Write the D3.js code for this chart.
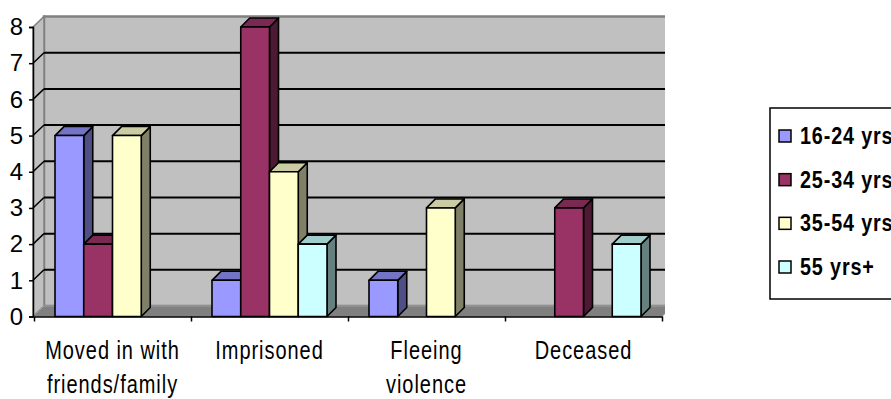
<!DOCTYPE html>
<html>
<head>
<meta charset="utf-8">
<script src="https://cdn.jsdelivr.net/npm/d3@7"></script>
<style>
  html, body { margin: 0; padding: 0; background: #fff; overflow: hidden; }
  svg { display: block; }
  text { font-family: "Liberation Sans", Arial, sans-serif; }
</style>
</head>
<body>
<svg id="chart" width="891" height="399"></svg>
<script>
// Housing outcomes by age band
const categories = ["Moved in with friends/family", "Imprisoned", "Fleeing violence", "Deceased"];
const categoryLines = [["Moved in with", "friends/family"], ["Imprisoned"], ["Fleeing", "violence"], ["Deceased"]];
const seriesNames = ["16-24 yrs", "25-34 yrs", "35-54 yrs", "55 yrs+"];
const age16to24 = [5, 1, 1, 0];
const age25to34 = [2, 8, 0, 3];
const age35to54 = [5, 4, 3, 0];
const age55plus = [0, 2, 0, 2];
const seriesValues = [age16to24, age25to34, age35to54, age55plus];
const yTicks = [0, 1, 2, 3, 4, 5, 6, 7, 8];

// face colours per series: front, top, side
const palette = [
  { front: "#9999FF", top: "#7474C6", side: "#4F4F85" },
  { front: "#993366", top: "#7A2952", side: "#4D1A33" },
  { front: "#FFFFCC", top: "#CCCCA4", side: "#808068" },
  { front: "#CCFFFF", top: "#A0CCCC", side: "#668080" }
];

const svg = d3.select("#chart");

// oblique depth of the walls and of the columns
const wallDX = 11, wallDY = 10.5;
const barDX = 9, barDY = 9;

const x0 = d3.scaleBand().domain(categories).range([34, 662]).paddingInner(0).paddingOuter(0);
const x1 = d3.scaleBand().domain(seriesNames).range([21, x0.bandwidth() - 21]);
const y = d3.scaleLinear().domain([0, 8]).range([316.5, 27]);

const plotLeft = 33, plotRight = 662;
const plotTop = y(8), plotBase = y(0);

// clip the plot body at the right end of the back wall
svg.append("defs").append("clipPath").attr("id", "plotClip")
  .append("rect").attr("x", 0).attr("y", 0).attr("width", 665).attr("height", 399);

const plot = svg.append("g").attr("clip-path", "url(#plotClip)");

const pts = a => a.map(p => p.join(",")).join(" ");

// back wall
plot.append("polygon")
  .attr("points", pts([[plotLeft + wallDX, plotTop - wallDY], [plotRight + wallDX, plotTop - wallDY], [plotRight + wallDX, plotBase - wallDY], [plotLeft + wallDX, plotBase - wallDY]]))
  .attr("fill", "#C0C0C0").attr("stroke", "#808080").attr("stroke-width", 2.5);

// side wall
plot.append("polygon")
  .attr("points", pts([[plotLeft, plotTop], [plotLeft + wallDX, plotTop - wallDY], [plotLeft + wallDX, plotBase - wallDY], [plotLeft, plotBase]]))
  .attr("fill", "#C0C0C0").attr("stroke", "#808080").attr("stroke-width", 1.5);

// floor
plot.append("polygon")
  .attr("points", pts([[plotLeft, plotBase], [plotLeft + wallDX, plotBase - wallDY], [plotRight + wallDX, plotBase - wallDY], [plotRight, plotBase]]))
  .attr("fill", "#808080").attr("stroke", "#A0A0A0").attr("stroke-width", 1);

// gridlines on the back and side walls
yTicks.filter(v => v > 0 && v < 8).forEach(v => {
  plot.append("line")
    .attr("x1", plotLeft + wallDX).attr("x2", plotRight + wallDX)
    .attr("y1", y(v) - wallDY).attr("y2", y(v) - wallDY)
    .attr("stroke", "#000").attr("stroke-width", 2);
  plot.append("line")
    .attr("x1", plotLeft).attr("x2", plotLeft + wallDX)
    .attr("y1", y(v)).attr("y2", y(v) - wallDY)
    .attr("stroke", "#000").attr("stroke-width", 1.5);
});

// columns, left to right so each front face hides its neighbour's side
const bars = plot.append("g").attr("stroke", "#000").attr("stroke-width", 1.6).attr("stroke-linejoin", "round");
categories.forEach((cat, ci) => {
  seriesNames.forEach((s, si) => {
    const v = seriesValues[si][ci];
    if (!v) return;
    const bx = x0(cat) + x1(s), bw = x1.bandwidth();
    const yt = y(v), yb = y(0);
    const c = palette[si];
    bars.append("polygon")
      .attr("points", pts([[bx + bw, yt], [bx + bw + barDX, yt - barDY], [bx + bw + barDX, yb - barDY], [bx + bw, yb]]))
      .attr("fill", c.side);
    bars.append("polygon")
      .attr("points", pts([[bx, yt], [bx + barDX, yt - barDY], [bx + bw + barDX, yt - barDY], [bx + bw, yt]]))
      .attr("fill", c.top);
    bars.append("rect")
      .attr("x", bx).attr("y", yt).attr("width", bw).attr("height", yb - yt)
      .attr("fill", c.front);
  });
});

// value axis
const yAxis = svg.append("g").attr("transform", `translate(${plotLeft},0)`)
  .call(d3.axisLeft(y).tickValues(yTicks).tickSize(4).tickPadding(6).tickFormat(d3.format("d")));
yAxis.select(".domain").attr("stroke", "#000").attr("stroke-width", 1.5);
yAxis.selectAll(".tick line").attr("stroke", "#000").attr("stroke-width", 1.5);
yAxis.selectAll(".tick text").attr("font-size", 24).attr("fill", "#000")
  .attr("font-family", "'Liberation Sans', Arial, sans-serif");

// category axis
const catTicks = categories.map(c => x0(c)).concat([x0(categories[categories.length - 1]) + x0.bandwidth()]);
const xTickScale = d3.scaleLinear().domain([34, 662]).range([34, 662]);
const xAxis = svg.append("g").attr("transform", `translate(0,${plotBase})`)
  .call(d3.axisBottom(xTickScale).tickValues(catTicks).tickSize(5).tickSizeOuter(0).tickFormat(""));
xAxis.select(".domain").attr("stroke", "#000").attr("stroke-width", 1.5);
xAxis.selectAll(".tick line").attr("stroke", "#000").attr("stroke-width", 1.5);

// category names in a narrow setting
const labels = svg.append("g");
categories.forEach((cat, ci) => {
  const cx = x0(cat) + x0.bandwidth() / 2;
  const t = labels.append("text")
    .attr("transform", `translate(${cx},359) scale(0.8,1)`)
    .attr("text-anchor", "middle")
    .attr("font-size", 25)
    .attr("letter-spacing", 1.2)
    .attr("fill", "#000");
  categoryLines[ci].forEach((line, li) => {
    t.append("tspan").attr("x", 0).attr("y", li * 34).text(line);
  });
});

// legend
const legend = svg.append("g");
legend.append("rect").attr("x", 770).attr("y", 108).attr("width", 140).attr("height", 191)
  .attr("fill", "#fff").attr("stroke", "#000").attr("stroke-width", 1.5);
const legendY = d3.scalePoint().domain(seriesNames).range([136, 267]);
seriesNames.forEach((s, si) => {
  const cy = legendY(s);
  legend.append("rect").attr("x", 779).attr("y", cy - 6).attr("width", 12).attr("height", 12)
    .attr("fill", palette[si].front).attr("stroke", "#000").attr("stroke-width", 1.5);
  legend.append("text").attr("transform", `translate(800,${cy}) scale(0.86,1)`).attr("dy", "0.35em")
    .attr("font-size", 23).attr("font-weight", "bold").attr("letter-spacing", 1)
    .attr("fill", "#000").text(s);
});
</script>
</body>
</html>
